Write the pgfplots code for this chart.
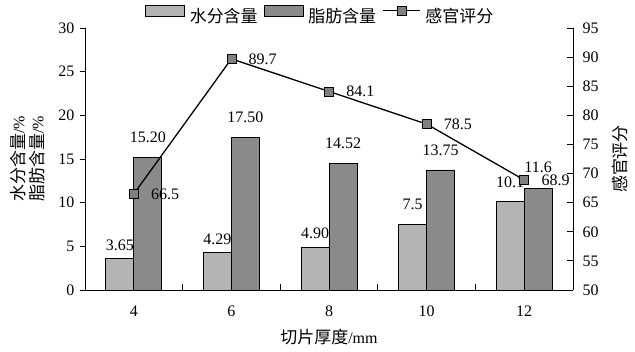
\documentclass[border=0pt]{standalone}
\usepackage{fontspec}
\setmainfont{Liberation Serif}
\newfontfamily\cjk[Scale=1.06]{Noto Sans CJK SC}
\usepackage{pgfplots}
\pgfplotsset{compat=1.18}
\usepackage{pgfplotstable}
\definecolor{lightbar}{RGB}{180,180,180}
\definecolor{darkbar}{RGB}{138,138,138}
\definecolor{markfill}{RGB}{128,128,128}
\pgfplotsset{
  mybarlegend/.style={legend image code/.code={\draw[##1,/tikz/.cd,yshift=0.35em] (0pt,-5.5pt) rectangle (39pt,5.5pt);}},
  mylinelegend/.style={legend image code/.code={\draw[black, line width=1.3pt] (0pt,0.35em) -- (37pt,0.35em); \node[draw=black, fill=markfill, line width=0.6pt, minimum size=9pt, inner sep=0pt] at (18.5pt,0.35em) {};}},
}

\pgfplotstableread{
x y lab dy
0 3.65 3.65 13
1 4.29 4.29 13
2 4.90 4.90 14
3 7.5 7.5 20
4 10.1 10.1 20
}\water
\pgfplotstableread{
x y lab dy
0 15.20 15.20 20
1 17.50 17.50 20
2 14.52 14.52 20
3 13.75 13.75 20
4 11.6 11.6 21
}\fat
\pgfplotstableread{
x y lab
0 66.5 66.5
1 89.7 89.7
2 84.1 84.1
3 78.5 78.5
4 68.9 68.9
}\score

\begin{document}
\fontsize{16}{19}\selectfont
\begin{tikzpicture}
\begin{axis}[
  at={(0,0)}, anchor=south west,
  scale only axis, width=488pt, height=262pt,
  xmin=-0.5, xmax=4.5, ymin=0, ymax=30,
  ytick={0,5,...,30},
  xtick={0,1,2,3,4}, xticklabels={4,6,8,10,12},
  xtick style={draw=none},
  xticklabel style={yshift=-5pt},
  tick align=outside, major tick length=5pt,
  axis x line*=bottom, axis y line*=left,
  axis line style={line width=0.8pt, black},
  ytick style={line width=0.8pt, black},
  /pgf/number format/assume math mode=true,
  ybar=0pt, bar width=28pt,
  ylabel={{\cjk 水分含量}/\%\\{\cjk 脂肪含量}/\%},
  ylabel style={at={(axis description cs:-0.118,0.5)}, anchor=center, align=center},
  xlabel={{\cjk 切片厚度}/mm},
  xlabel style={at={(axis description cs:0.5,-0.179)}, anchor=center},
  legend style={at={(0.482,1.047)}, anchor=center, draw=none, fill=none,
    legend columns=3,
    /tikz/every odd column/.append style={column sep=3pt},
    /tikz/every even column/.append style={column sep=4pt}},
]
\addplot[fill=lightbar, draw=black, line width=0.7pt,
  nodes near coords, point meta=explicit symbolic,
  visualization depends on={\thisrow{dy}\as\dy},
  every node near coord/.append style={anchor=center, yshift=\dy pt, text=black, inner sep=0pt},
  mybarlegend]
  table[x=x,y=y,meta=lab]{\water};
\addlegendentry{\cjk 水分含量}
\addplot[fill=darkbar, draw=black, line width=0.7pt,
  nodes near coords, point meta=explicit symbolic,
  visualization depends on={\thisrow{dy}\as\dy},
  every node near coord/.append style={anchor=center, yshift=\dy pt, text=black, inner sep=0pt},
  mybarlegend]
  table[x=x,y=y,meta=lab]{\fat};
\addlegendentry{\cjk 脂肪含量}
\addlegendimage{mylinelegend}
\addlegendentry{\cjk 感官评分}
\end{axis}
\begin{axis}[
  at={(0,0)}, anchor=south west,
  scale only axis, width=488pt, height=262pt,
  xmin=-0.5, xmax=4.5, ymin=50, ymax=95,
  ytick={50,55,...,95},
  xtick={0.5,1.5,2.5,3.5}, xticklabels={},
  tick align=inside, major tick length=6pt,
  axis x line*=bottom, axis y line*=right,
  axis line style={line width=0.8pt, black},
  tick style={line width=0.8pt, black},
  /pgf/number format/assume math mode=true,
  yticklabel style={xshift=4pt},
  ylabel={\cjk 感官评分},
  ylabel style={at={(axis description cs:1.096,0.5)}, anchor=center},
]
\addplot[black, line width=1.3pt, mark=square*, mark size=4.5pt,
  mark options={fill=markfill, draw=black, line width=0.6pt},
  nodes near coords, point meta=explicit symbolic,
  every node near coord/.append style={anchor=west, xshift=16pt, text=black, inner sep=1pt}]
  table[x=x,y=y,meta=lab]{\score};
\end{axis}
\pgfresetboundingbox
\useasboundingbox (-85pt,-61pt) rectangle (550pt,290pt);
\end{tikzpicture}
\end{document}
